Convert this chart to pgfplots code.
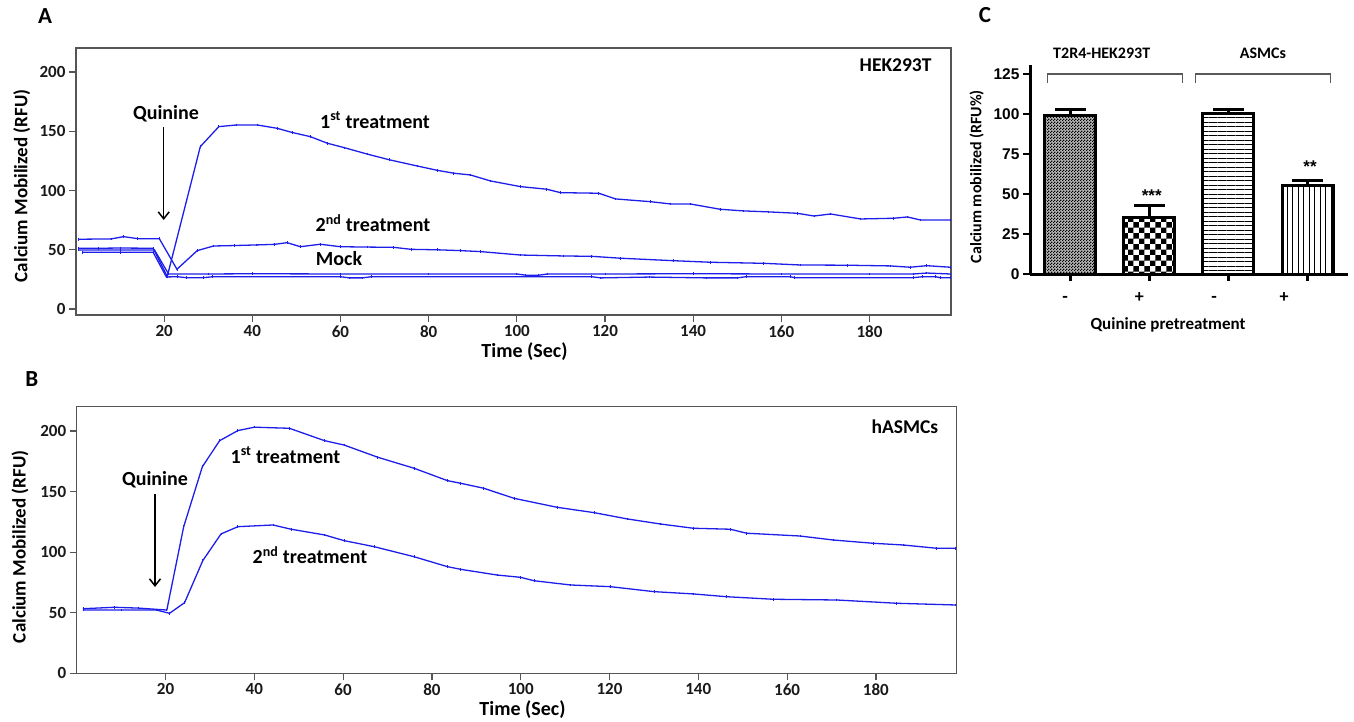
\documentclass[border=0pt]{standalone}
\usepackage{fontspec}
\setmainfont{Carlito}
\newfontfamily\arialf{Liberation Sans}
\usepackage{pgfplots}
\pgfplotsset{compat=1.18}
\usetikzlibrary{patterns,patterns.meta,arrows.meta}
\definecolor{lineblue}{RGB}{30,30,235}
\definecolor{axgray}{RGB}{85,85,85}
\pgfdeclarepatternformonly{bigchecker}{\pgfqpoint{0pt}{0pt}}{\pgfqpoint{11.4pt}{11.4pt}}{\pgfqpoint{11.4pt}{11.4pt}}{%
  \pgfpathrectangle{\pgfpointorigin}{\pgfqpoint{5.7pt}{5.7pt}}%
  \pgfpathrectangle{\pgfqpoint{5.7pt}{5.7pt}}{\pgfqpoint{5.7pt}{5.7pt}}%
  \pgfusepath{fill}}
\pgfdeclarepatternformonly{finechecker}{\pgfqpoint{0pt}{0pt}}{\pgfqpoint{3pt}{3pt}}{\pgfqpoint{3pt}{3pt}}{%
  \pgfpathrectangle{\pgfpointorigin}{\pgfqpoint{1.5pt}{1.5pt}}%
  \pgfpathrectangle{\pgfqpoint{1.5pt}{1.5pt}}{\pgfqpoint{1.5pt}{1.5pt}}%
  \pgfusepath{fill}}
\pgfplotsset{
  kin/.style={scale only axis, anchor=south west, xmin=0,
    axis line style={draw=axgray, line width=1.3pt},
    tick style={draw=axgray, line width=1.2pt},
    tick align=outside, major tick length=7pt, tick pos=left,
    xtick={20,40,...,180}, ytick={0,50,...,200},
    ticklabel style={font=\fontsize{17}{17}\selectfont\bfseries, text=black!90},
    /pgf/number format/assume math mode=true},
  trace/.style={line width=1.3pt, color=lineblue, mark=|, mark size=1.3pt,
    mark options={line width=0.8pt}},
  cbar/.style={ybar, bar width=51pt, bar shift=0pt, draw=black, line width=3pt,
    error bars/y dir=plus, error bars/y explicit,
    error bars/error bar style={line width=3pt, black},
    error bars/error mark options={rotate=90, line width=3pt, mark size=15.3pt, black}}
}
\begin{document}
\begin{tikzpicture}[x=1pt,y=1pt]
\useasboundingbox (0pt,0pt) rectangle (1354pt,-721pt);
% ---------------- Panel A
\begin{axis}[kin, at={(76pt,-315pt)}, width=875pt, height=267pt,
  ymin=-5, ymax=220.2, xmax=198.5]
\addplot[trace] coordinates {(0.5,51.3)(5,51.3)(10,51.5)(17.5,51.3)(20.7,27.5)(28.2,137)(32.4,153.9)(36.5,155.3)(41.1,155.3)(45.6,152.5)(49,149)(53.2,145.4)(57,139.9)(61,136)(66,130.8)(71,126)(77.4,120.7)(82,117)(85.7,114.6)(89.5,113.1)(94,108.1)(100.8,103.3)(106.8,101.1)(109.9,98.2)(118.6,97.7)(122.4,92.9)(130.3,90.6)(134.8,88.7)(139.3,88.7)(146.1,84.2)(151.4,82.8)(157,82)(163.6,80.8)(167.4,78.5)(171.2,80.2)(178,76)(185.5,76.6)(188.6,77.7)(191.5,75.2)(198.3,75.2)};
\addplot[trace] coordinates {(0.5,58.9)(8,59.2)(10.8,61.1)(14,59.4)(18.9,59.4)(22.9,33.6)(27.5,49.3)(31.2,53.2)(36,53.6)(40.9,54.1)(45,54.6)(47.9,56)(50.9,52.6)(55.4,54.7)(60,52.6)(66,52.3)(72,52.1)(76,50.4)(82,50)(87.2,49.3)(91.7,48.5)(100.8,45.6)(110.6,44.8)(117,44.5)(123.5,42.9)(135.6,40.8)(143.9,39.5)(156,38.6)(164.3,37.2)(175,37)(184.7,36.4)(189.2,35.3)(193,36.6)(198.3,35.3)};
\addplot[trace] coordinates {(0.5,49.9)(10,49.9)(17.8,49.9)(21,29.6)(30,29.6)(40,29.8)(60,29.6)(80,29.6)(100,29.6)(102,28.6)(105,28.6)(107,29.6)(120,29.6)(140,29.8)(160,29.6)(180,29.6)(190,29.6)(193,30.4)(198.3,29.6)};
\addplot[trace] coordinates {(1.5,47.9)(10,47.9)(17.5,47.9)(20.5,27.1)(23,27.3)(25,26.5)(29,26.5)(31,27.3)(60,27.3)(62,26.3)(65,26.3)(67,27.3)(117,27.3)(119,26.3)(130,27)(143,26.3)(150,26.3)(152,27.3)(162,27.3)(163,26.5)(190,26.5)(192,27.3)(195,27.3)(196,26.5)(198.3,26.5)};
\end{axis}
% ---------------- Panel B
\begin{axis}[kin, at={(76.7pt,-673.3pt)}, width=880pt, height=266.6pt,
  ymin=0, ymax=220, xmax=198.2]
\addplot[trace] coordinates {(1.4,53.3)(8.5,54.5)(14,53.8)(20.3,52.2)(24.1,121)(28.3,170.5)(32.2,192)(36.3,200.3)(40,203.1)(47.9,202.2)(55.8,192)(60.2,188.4)(67.8,178.3)(76,169.2)(83.5,159)(86.5,156.8)(91.7,152.7)(98.5,144.4)(108.2,137)(116.5,132.6)(124,127.4)(131.5,123.2)(138.9,119.7)(147.2,118.9)(150.9,115.6)(162.9,113.3)(170.4,110)(179.4,107.3)(186.1,105.9)(193.7,103.2)(197.8,103.2)};
\addplot[trace] coordinates {(1.4,52.2)(10,52.2)(18,52.2)(20.9,49.5)(24.3,58.3)(28.4,93)(32.5,115)(36.3,121)(44.2,122.4)(48.3,118.9)(55.8,114.2)(60.2,109.5)(67,104.5)(76,96.2)(83.5,88)(86.5,85.8)(94.7,81.1)(100,79.2)(103,76.4)(111.2,72.9)(120.2,71.5)(130,67.4)(138.9,65.5)(146.4,63.2)(156.9,61.1)(171.2,60.5)(184.7,57.8)(197.8,56.4)};
\end{axis}
% ---------------- Panel C
\begin{axis}[scale only axis, anchor=south west, at={(1030pt,-274pt)},
  width=318pt, height=209pt, xmin=-0.51, xmax=3.512, ymin=0, ymax=130.6,
  axis lines*=left, axis line style={line width=3pt, black},
  tick align=outside, major tick length=7pt,
  tick style={line width=2.5pt, black},
  ytick={0,25,...,125}, xtick={0,1,2,3}, xticklabels={},
  yticklabel style={font=\arialf\fontsize{15.5}{16}\selectfont\bfseries},
  /pgf/number format/assume math mode=true, clip=false]
\addplot[cbar, fill=black!28, postaction={pattern=finechecker}]
  coordinates {(0,98.75) +- (0,4.15)};
\addplot[cbar, pattern=bigchecker]
  coordinates {(1,35.2) +- (0,7.9)};
\addplot[cbar, pattern={Lines[angle=0,distance=4.5pt,line width=1pt]}]
  coordinates {(2,100) +- (0,3.1)};
\addplot[cbar, pattern={Lines[angle=90,distance=5.5pt,line width=1pt]}]
  coordinates {(3,55.6) +- (0,2.7)};
\end{axis}
% ---------------- Texts panel A
\node[font=\fontsize{23}{26}\selectfont\bfseries] at (45pt,-16pt) {A};
\node[font=\fontsize{19.5}{22}\selectfont\bfseries, anchor=east] at (935pt,-65pt) {HEK293T};
\node[font=\fontsize{20}{24}\selectfont\bfseries] at (166pt,-114pt) {Quinine};
\draw[-{Straight Barb[length=7pt,width=11pt,line width=1.5pt]}, line width=1.5pt] (163.7pt,-127pt) -- (163.7pt,-220pt);
\node[font=\fontsize{20}{24}\selectfont\bfseries] at (375pt,-120pt) {1\textsuperscript{st} treatment};
\node[font=\fontsize{20}{24}\selectfont\bfseries] at (373pt,-223pt) {2\textsuperscript{nd} treatment};
\node[font=\fontsize{20}{24}\selectfont\bfseries] at (339pt,-259pt) {Mock};
\node[font=\fontsize{20}{24}\selectfont\bfseries] at (524.5pt,-351.7pt) {Time (Sec)};
\node[font=\fontsize{19}{22}\selectfont\bfseries, rotate=90] at (21.7pt,-185.8pt) {Calcium Mobilized (RFU)};
% ---------------- Texts panel B
\node[font=\fontsize{23}{26}\selectfont\bfseries] at (31.7pt,-379.3pt) {B};
\node[font=\fontsize{19.5}{22}\selectfont\bfseries, anchor=east] at (941.7pt,-426.7pt) {hASMCs};
\node[font=\fontsize{20}{24}\selectfont\bfseries] at (155pt,-480pt) {Quinine};
\draw[-{Straight Barb[length=7pt,width=11pt,line width=1.5pt]}, line width=1.5pt] (155pt,-494pt) -- (155pt,-587pt);
\node[font=\fontsize{20}{24}\selectfont\bfseries] at (285.5pt,-455pt) {1\textsuperscript{st} treatment};
\node[font=\fontsize{20}{24}\selectfont\bfseries] at (310pt,-555pt) {2\textsuperscript{nd} treatment};
\node[font=\fontsize{20}{24}\selectfont\bfseries] at (522.5pt,-710pt) {Time (Sec)};
\node[font=\fontsize{19}{22}\selectfont\bfseries, rotate=90] at (20pt,-546.7pt) {Calcium Mobilized (RFU)};
% ---------------- Texts panel C
\node[font=\fontsize{23}{26}\selectfont\bfseries] at (985pt,-15pt) {C};
\node[font=\fontsize{16}{18}\selectfont\bfseries] at (1101.7pt,-53pt) {T2R4-HEK293T};
\node[font=\fontsize{16}{18}\selectfont\bfseries] at (1263pt,-53pt) {ASMCs};
\draw[line width=1.3pt, black!65] (1047.3pt,-82.7pt) -- (1047.3pt,-74pt) -- (1182.3pt,-74pt) -- (1182.3pt,-82.7pt);
\draw[line width=1.3pt, black!65] (1195.7pt,-82.7pt) -- (1195.7pt,-74pt) -- (1330.7pt,-74pt) -- (1330.7pt,-82.7pt);
\node[font=\arialf\fontsize{17}{17}\selectfont\bfseries, anchor=base] at (1151.7pt,-201.6pt) {***};
\node[font=\arialf\fontsize{17}{17}\selectfont\bfseries, anchor=base] at (1310pt,-172.9pt) {**};
\node[font=\fontsize{18}{20}\selectfont\bfseries, anchor=base] at (1065pt,-302pt) {-};
\node[font=\fontsize{18}{20}\selectfont\bfseries, anchor=base] at (1139.3pt,-302pt) {+};
\node[font=\fontsize{18}{20}\selectfont\bfseries, anchor=base] at (1214pt,-302pt) {-};
\node[font=\fontsize{18}{20}\selectfont\bfseries, anchor=base] at (1284pt,-302pt) {+};
\node[font=\fontsize{17}{20}\selectfont\bfseries] at (1168pt,-325pt) {Quinine pretreatment};
\node[font=\fontsize{16}{18}\selectfont\bfseries, rotate=90] at (976.7pt,-176.7pt) {Calcium mobilized (RFU\%)};
\end{tikzpicture}
\end{document}
